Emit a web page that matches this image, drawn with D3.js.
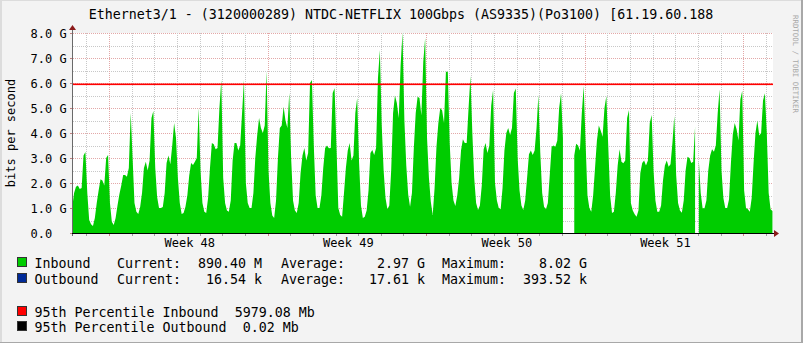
<!DOCTYPE html>
<html><head><meta charset="utf-8">
<script src="https://cdn.jsdelivr.net/npm/d3@7/dist/d3.min.js"></script>
<style>
html,body{margin:0;padding:0;background:#F3F3F3;}
svg{display:block;}
text{font-family:"DejaVu Sans Mono",monospace;white-space:pre;}
</style></head><body>
<svg id="chart" width="803" height="343"></svg>
<script>
// ---------------- data ----------------
const titleText = "Ethernet3/1 - (3120000289) NTDC-NETFLIX 100Gbps (AS9335)(Po3100) [61.19.60.188";
const yAxisTitle = "bits per second";
const sideText = "RRDTOOL / TOBI OETIKER";
const yTickValues = [0, 1, 2, 3, 4, 5, 6, 7, 8];            // Gbit/s
const yTickLabels = ["0.0", "1.0 G", "2.0 G", "3.0 G", "4.0 G", "5.0 G", "6.0 G", "7.0 G", "8.0 G"];
const weekLabels = ["Week 48", "Week 49", "Week 50", "Week 51"];
const sampleHours = [1, 3, 5, 7, 9, 11, 13, 15, 17, 19, 21, 23];   // sample hours of each day
const firstDay = [2023, 10, 25];                                 // Sat 25 Nov 2023 (UTC)
const viewStart = Date.UTC(2023, 10, 25, 9, 51);
const viewEnd = Date.UTC(2023, 11, 26, 7, 35);

// Inbound Gbit/s, 12 samples per day (hours above)
const inboundWeekend47 = [
  1.6, 0.9, 0.5, 0.5, 1.0, 1.6, 1.85, 1.9, 1.76, 1.8, 3.1, 3.24,
  1.6, 0.52, 0.35, 0.28, 0.6, 1.2, 1.7, 2.15, 2.1, 1.9, 3.0, 3.12
];
const inboundWeek48 = [
  1.2, 0.45, 0.32, 0.6, 1.1, 1.55, 1.9, 2.32, 2.32, 2.25, 2.6, 4.8,
  3.0, 1.2, 0.85, 0.76, 1.04, 1.6, 2.6, 2.85, 2.5, 2.9, 4.6, 4.88,
  2.6, 1.44, 1.0, 1.0, 1.04, 1.6, 2.8, 3.1, 2.75, 3.5, 4.4, 3.8,
  2.2, 1.2, 0.76, 0.8, 1.05, 1.5, 2.3, 2.8, 2.72, 2.85, 3.0, 5.0,
  2.5, 1.2, 0.85, 0.8, 1.4, 2.6, 3.6, 3.55, 3.35, 3.4, 5.0, 6.12,
  2.2, 1.2, 0.9, 0.85, 1.3, 2.9, 3.6, 3.6, 3.3, 3.5, 4.8, 6.12,
  2.0, 1.2, 1.0, 1.0, 1.6, 3.0, 3.9, 4.6, 4.2, 4.0, 4.3, 6.48
];
const inboundWeek49 = [
  2.5, 1.2, 0.7, 0.6, 1.3, 3.0, 4.2, 4.3, 5.05, 4.5, 4.2, 5.6,
  3.0, 1.3, 0.9, 0.8, 1.2, 2.4, 3.1, 3.4, 2.9, 3.2, 6.0, 6.12,
  3.5, 1.5, 1.0, 1.0, 1.5, 2.6, 3.4, 3.5, 3.39, 3.4, 5.6, 5.79,
  3.5, 1.0, 0.72, 0.65, 1.6, 2.6, 3.3, 3.6, 2.9, 3.1, 4.8, 5.4,
  2.8, 1.1, 0.6, 0.65, 0.9, 1.7, 3.2, 3.32, 3.12, 3.4, 6.2, 7.32,
  4.3, 2.5, 1.4, 0.95, 1.1, 2.5, 4.8, 5.5, 5.2, 4.6, 6.7, 8.02,
  4.5, 2.7, 1.55, 1.05, 1.6, 3.4, 4.8, 5.45, 5.4, 4.7, 6.85, 7.8
];
const inboundWeek50 = [
  3.8, 2.2, 1.25, 0.72, 1.8, 3.45, 4.4, 5.0, 4.9, 4.4, 6.45, 6.45,
  3.6, 2.0, 1.3, 1.08, 1.5, 2.2, 3.3, 3.75, 3.6, 3.6, 5.0, 6.28,
  4.0, 2.2, 1.2, 0.92, 1.1, 1.9, 3.35, 3.6, 3.2, 3.5, 5.1, 5.72,
  2.0, 1.3, 1.0, 0.95, 1.8, 3.3, 4.0, 4.2, 3.92, 4.2, 5.6, 5.78,
  3.0, 1.7, 1.1, 0.92, 1.3, 2.2, 3.15, 3.3, 3.12, 3.3, 4.2, 5.52,
  3.2, 1.6, 1.05, 0.95, 1.2, 2.3, 3.45, 3.5, 3.45, 3.7, 5.0, 5.59,
  3.8, null, null, null, null, null, 3.1, 3.57, 3.5, 3.3, 4.8, 5.88
];
const inboundWeek51 = [
  3.6, 1.5, 1.0, 0.85, 1.5, 2.6, 3.7, 4.3, 4.1, 3.85, 5.0, 5.48,
  3.5, 1.5, 0.8, 0.85, 1.6, 2.7, 3.35, 2.85, 2.79, 2.9, 4.6, 4.92,
  1.2, 0.9, 0.75, 0.65, 0.9, 2.4, 2.8, 2.9, 2.7, 2.9, 4.4, 4.72,
  2.5, 1.3, 0.85, 0.85, 1.1, 2.1, 2.7, 2.9, 2.65, 2.75, 3.6, 4.68,
  2.3, 1.2, 0.9, 0.81, 1.3, 2.5, 3.05, 3.0, 2.8, 2.85, 4.25, null,
  2.9, 1.6, 0.99, 0.99, 1.3, 2.5, 3.1, 3.35, 3.25, 3.5, 4.8, 5.75,
  2.5, 1.4, 1.0, 1.0, 1.35, 2.8, 3.95, 4.4, 4.15, 3.7, 5.35, 5.69
];
const inboundWeek52 = [
  1.7, 1.0, 0.95, 0.85, 1.4, 2.8, 4.0, 4.5, 3.9, 4.0, 5.3, 5.59,
  4.0, 1.6, 0.95, 0.88
];
const percentile95In = 5.97908;   // Gbit/s

const legendSwatches = ["#00CC00", "#002A97", "#FF0000", "#000000"];
const legendNames = ["Inbound", "Outbound", "95th Percentile Inbound  5979.08 Mb", "95th Percentile Outbound  0.02 Mb"];
const legendCurrent = ["890.40 M", "16.54 k"];
const legendAverage = ["2.97 G", "17.61 k"];
const legendMaximum = ["8.02 G", "393.52 k"];

// ---------------- drawing ----------------
const W = 803, H = 343;
const plot = {left: 73, right: 773, top: 33, bottom: 233};
const svg = d3.select("#chart");

svg.append("rect").attr("x", 0).attr("y", 0).attr("width", W).attr("height", H).attr("fill", "#F3F3F3");
// frame shading
svg.append("rect").attr("x", 0).attr("y", 0).attr("width", 2).attr("height", H).attr("fill", "#DCDCDC");
svg.append("rect").attr("x", 0).attr("y", 0).attr("width", W).attr("height", 1).attr("fill", "#DCDCDC");
svg.append("rect").attr("x", W - 2).attr("y", 0).attr("width", 2).attr("height", H).attr("fill", "#A8A8A8");
svg.append("rect").attr("x", 0).attr("y", H - 1).attr("width", W).attr("height", 1).attr("fill", "#A8A8A8");

svg.append("rect").attr("x", plot.left).attr("y", plot.top)
  .attr("width", plot.right - plot.left).attr("height", plot.bottom - plot.top).attr("fill", "#FFFFFF");

const x = d3.scaleUtc().domain([viewStart, viewEnd]).range([plot.left, plot.right]);
const y = d3.scaleLinear().domain([0, 8]).range([plot.bottom, plot.top]);

// build series
const inbound = [inboundWeekend47, inboundWeek48, inboundWeek49, inboundWeek50, inboundWeek51, inboundWeek52]
  .flat()
  .map((v, i) => ({
    t: Date.UTC(firstDay[0], firstDay[1], firstDay[2] + Math.floor(i / sampleHours.length), sampleHours[i % sampleHours.length]),
    v: v
  }));

const minorColor = "#C8C8C8", majorColor = "#E3A8A8";
// grid
const grid = svg.append("g").attr("shape-rendering", "crispEdges");
const halfSteps = d3.range(0, 8.01, 0.5);
halfSteps.forEach(v => {
  const major = Number.isInteger(v);
  grid.append("line")
    .attr("x1", plot.left).attr("x2", plot.right)
    .attr("y1", Math.round(y(v)) + 0.5).attr("y2", Math.round(y(v)) + 0.5)
    .attr("stroke", major ? majorColor : minorColor)
    .attr("stroke-dasharray", "1,1");
});
const days = d3.utcDay.range(viewStart, viewEnd);
days.forEach(d => {
  const major = d.getUTCDay() === 1;
  const px = Math.round(x(d)) + 0.5;
  grid.append("line")
    .attr("x1", px).attr("x2", px).attr("y1", plot.top).attr("y2", plot.bottom)
    .attr("stroke", major ? majorColor : minorColor)
    .attr("stroke-dasharray", "1,1");
  grid.append("line")
    .attr("x1", px).attr("x2", px).attr("y1", plot.bottom).attr("y2", plot.bottom + 3)
    .attr("stroke", major ? "#D08080" : "#A0A0A0");
});

// clip
svg.append("clipPath").attr("id", "clip").append("rect")
  .attr("x", plot.left).attr("y", plot.top - 5).attr("width", plot.right - plot.left).attr("height", plot.bottom - plot.top + 5);

const area = d3.area()
  .defined(d => d.v !== null)
  .x(d => x(d.t)).y0(y(0)).y1(d => y(d.v))
  .curve(d3.curveLinear);
svg.append("path").datum(inbound).attr("clip-path", "url(#clip)")
  .attr("d", area).attr("fill", "#00CC00").attr("stroke", "none");

// 95th percentile
svg.append("rect").attr("x", plot.left).attr("width", plot.right - plot.left)
  .attr("y", Math.round(y(percentile95In)) - 0.5).attr("height", 1.6)
  .attr("fill", "#FF0000");

// axes
svg.append("rect").attr("x", plot.left - 1).attr("width", 1)
  .attr("y", plot.top - 4).attr("height", plot.bottom - plot.top + 7).attr("fill", "#6A6A6A");
svg.append("rect").attr("x", plot.left - 3).attr("width", plot.right - plot.left + 6)
  .attr("y", plot.bottom).attr("height", 1).attr("fill", "#000000");
svg.append("path").attr("d", `M${plot.left - 4},${plot.top - 3}L${plot.left - 0.5},${plot.top - 8}L${plot.left + 3},${plot.top - 3}Z`).attr("fill", "#8B1A1A");
svg.append("path").attr("d", `M${plot.right + 1},${plot.bottom - 3}L${plot.right + 6},${plot.bottom + 0.5}L${plot.right + 1},${plot.bottom + 4}Z`).attr("fill", "#8B1A1A");

// y ticks & labels
yTickValues.forEach((v, i) => {
  svg.append("rect").attr("x", plot.left - 3).attr("width", 2)
    .attr("y", Math.round(y(v))).attr("height", 1).attr("fill", "#C08080");
  svg.append("text").attr("x", 30.5).attr("y", y(v) + 4.5)
    .attr("font-size", "12px").attr("fill", "#000").text(yTickLabels[i]);
});

// week labels
const mondays = d3.utcMonday.range(viewStart, viewEnd);
mondays.forEach((m, i) => {
  const mid = d3.utcHour.offset(m, 84);
  if (i < weekLabels.length && x(mid) < plot.right) {
    svg.append("text").attr("x", x(mid) + 1.5).attr("y", 247).attr("text-anchor", "middle")
      .attr("font-size", "12px").attr("fill", "#000").text(weekLabels[i]);
  }
});

// titles
svg.append("text").attr("x", 401).attr("y", 19).attr("text-anchor", "middle")
  .attr("font-size", "13.3px").attr("fill", "#000").text(titleText);
svg.append("text").attr("transform", `translate(15,133) rotate(-90)`).attr("text-anchor", "middle")
  .attr("font-size", "12px").attr("fill", "#000").text(yAxisTitle);
svg.append("text").attr("transform", `translate(793,15) rotate(90)`).attr("text-anchor", "start")
  .attr("font-size", "7.4px").attr("fill", "#A8A8A8").text(sideText);

// legend
const rowsY = [263, 279, 312, 327];
legendSwatches.forEach((c, i) => {
  svg.append("rect").attr("x", 17.5).attr("y", rowsY[i] - 5.5).attr("width", 9).attr("height", 9)
    .attr("fill", c).attr("stroke", "#333").attr("stroke-width", 1);
  svg.append("text").attr("x", 34.5).attr("y", rowsY[i] + 4.5).attr("font-size", "13.3px").attr("fill", "#000").text(legendNames[i]);
});
[0, 1].forEach(i => {
  const ty = rowsY[i] + 4.5;
  svg.append("text").attr("x", 117).attr("y", ty).attr("font-size", "13.3px").text("Current:");
  svg.append("text").attr("x", 262).attr("y", ty).attr("text-anchor", "end").attr("font-size", "13.3px").text(legendCurrent[i]);
  svg.append("text").attr("x", 281).attr("y", ty).attr("font-size", "13.3px").text("Average:");
  svg.append("text").attr("x", 425).attr("y", ty).attr("text-anchor", "end").attr("font-size", "13.3px").text(legendAverage[i]);
  svg.append("text").attr("x", 442).attr("y", ty).attr("font-size", "13.3px").text("Maximum:");
  svg.append("text").attr("x", 587).attr("y", ty).attr("text-anchor", "end").attr("font-size", "13.3px").text(legendMaximum[i]);
});
</script>
</body></html>
